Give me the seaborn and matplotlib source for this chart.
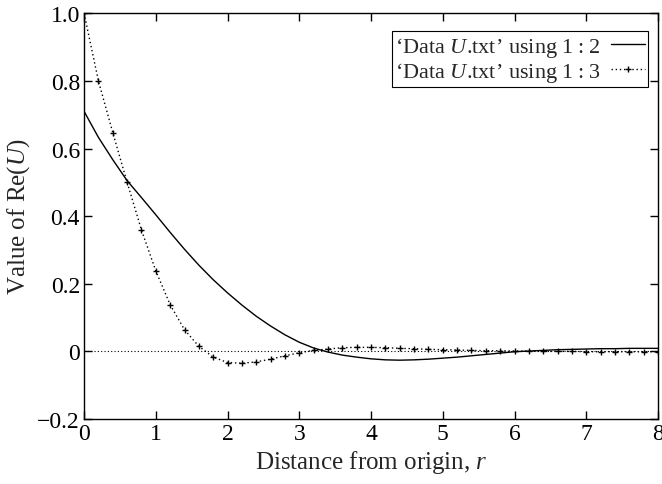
import numpy as np
import pandas as pd
import matplotlib
matplotlib.use('Agg')
import matplotlib.pyplot as plt
import seaborn as sns

# radial grid used in the data file (step 0.2)
r = np.round(np.arange(0, 8.01, 0.2), 1)

# column 2 of Data U.txt
col2 = [0.710, 0.633, 0.567, 0.505, 0.455, 0.404, 0.352, 0.302, 0.255, 0.212,
        0.173, 0.137, 0.104, 0.075, 0.049, 0.027, 0.010, -0.002, -0.011, -0.017,
        -0.022, -0.025, -0.026, -0.025, -0.023, -0.020, -0.017, -0.013, -0.009, -0.005,
        -0.001, 0.001, 0.003, 0.005, 0.006, 0.007, 0.008, 0.008, 0.009, 0.009,
        0.009]

# column 3 of Data U.txt
col3 = [1.000, 0.800, 0.647, 0.500, 0.359, 0.238, 0.138, 0.064, 0.015, -0.017,
        -0.033, -0.035, -0.031, -0.023, -0.013, -0.004, 0.003, 0.007, 0.011, 0.012,
        0.012, 0.011, 0.009, 0.008, 0.006, 0.005, 0.004, 0.003, 0.002, 0.002,
        0.001, 0.001, 0.000, 0.000, 0.000, -0.001, -0.001, -0.001, -0.001, -0.001,
        -0.001]

xticks = [0, 1, 2, 3, 4, 5, 6, 7, 8]
yticks = [-0.2, 0, 0.2, 0.4, 0.6, 0.8, 1.0]
ytick_labels = ['\u22120.2', '0', '0.2', '0.4', '0.6', '0.8', '1.0']

label2 = '\u2018Data $U$.txt\u2019 using 1\u2009:\u20092'
label3 = '\u2018Data $U$.txt\u2019 using 1\u2009:\u20093'

df = pd.DataFrame({'r': r, 'c2': col2, 'c3': col3})

sns.set_theme(style='ticks')
plt.rcParams['font.family'] = ['Liberation Serif', 'DejaVu Serif']
plt.rcParams['mathtext.fontset'] = 'custom'
plt.rcParams['mathtext.rm'] = 'Liberation Serif'
plt.rcParams['mathtext.it'] = 'Liberation Serif:italic'
plt.rcParams['axes.linewidth'] = 1.0
plt.rcParams['xtick.direction'] = 'in'
plt.rcParams['ytick.direction'] = 'in'

fig = plt.figure(figsize=(6.62, 4.85), dpi=100)
ax = fig.add_axes([0.127, 0.134, 0.867, 0.8365])

# zero axis
ax.axhline(0, color='black', lw=0.8, ls=(0, (1, 2)), zorder=1)

sns.lineplot(data=df, x='r', y='c2', ax=ax, color='black', lw=1.0, label=label2)
sns.lineplot(data=df, x='r', y='c3', ax=ax, color='black', lw=1.0, ls=(0, (1, 2)),
             marker='+', markersize=5, markeredgewidth=1.0,
             markeredgecolor='black', markerfacecolor='black', label=label3)

ax.set_xlim(0, 8)
ax.set_ylim(-0.2, 1.0)
ax.set_xticks(xticks)
ax.set_xticklabels([str(t) for t in xticks])
ax.set_yticks(yticks)
ax.set_yticklabels(ytick_labels)
ax.tick_params(axis='both', which='major', labelsize=17, length=6, width=1.0,
               top=True, right=True, colors='black', pad=3)
for s in ax.spines.values():
    s.set_visible(True)
    s.set_color('black')

ax.set_xlabel('Distance from origin, $r$', fontsize=18, labelpad=3)
ax.set_ylabel('Value of Re($U$)', fontsize=18, labelpad=4)

leg = ax.legend(loc='upper right', bbox_to_anchor=(0.9826, 0.9557), markerfirst=False,
                fontsize=16, handlelength=1.5, fancybox=False, framealpha=1,
                edgecolor='black', borderpad=0.15, labelspacing=0.05,
                handletextpad=0.5, borderaxespad=0)
leg.get_frame().set_linewidth(0.8)

fig.savefig('out.png', dpi=100)
